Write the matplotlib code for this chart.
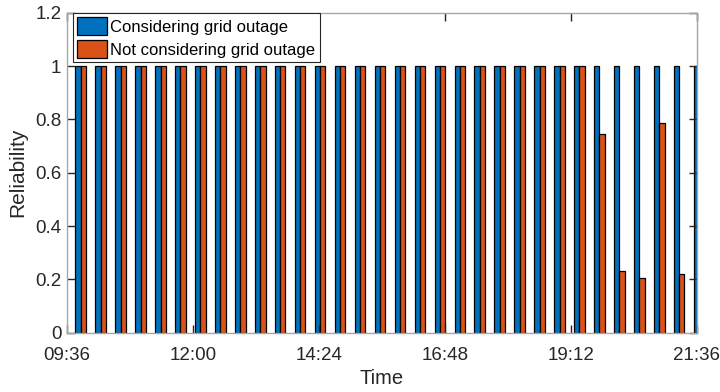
import matplotlib
matplotlib.use("Agg")
import matplotlib.pyplot as plt
import numpy as np

plt.rcParams['font.family'] = ['Liberation Sans', 'DejaVu Sans']

# Data
n_slots = 32
start_hour = 9.861          # first time slot (hours)
step_hour = 0.38            # slot spacing (hours)
considering = [1.0] * 32
not_considering = [1.0] * 26 + [0.745, 0.23, 0.205, 0.787, 0.22, 0.0]
tick_hours = [9.6, 12.0, 14.4, 16.8, 19.2, 21.6]
tick_labels = ['09:36', '12:00', '14:24', '16:48', '19:12', '21:36']
yticks = [0, 0.2, 0.4, 0.6, 0.8, 1.0, 1.2]
ytick_labels = ['0', '0.2', '0.4', '0.6', '0.8', '1', '1.2']

x = start_hour + step_hour * np.arange(n_slots)
w = 0.1

fig = plt.figure(figsize=(7.2, 3.92), dpi=100)
ax = fig.add_axes([67/720, 1-332.7/392, (697-67)/720, (332.7-12.7)/392])

ax.bar(x - w/2, considering, width=w, color='#0072BD', edgecolor='black',
       linewidth=0.9, label='Considering grid outage')
ax.bar(x + w/2, not_considering, width=w, color='#D95319', edgecolor='black',
       linewidth=0.9, label='Not considering grid outage')

ax.set_xlim(9.6, 21.6)
ax.set_ylim(0, 1.2)
ax.set_xticks(tick_hours)
ax.set_xticklabels(tick_labels)
ax.set_yticks(yticks)
ax.set_yticklabels(ytick_labels)

for s in ax.spines.values():
    s.set_color('#a6a6a6')
    s.set_linewidth(1.0)
ax.tick_params(direction='in', length=6, width=1.0, color='#262626',
               labelsize=13.5, labelcolor='#262626', top=True, right=True)
ax.tick_params(axis='x', pad=10)
ax.tick_params(axis='y', pad=4)

ax.set_xlabel('Time', fontsize=14.5, color='#262626', labelpad=4)
ax.set_ylabel('Reliability', fontsize=15, color='#262626', labelpad=6)

leg = ax.legend(loc='upper left', fontsize=12, frameon=True, fancybox=False,
                edgecolor='#262626', framealpha=1, borderpad=0.25,
                labelspacing=0.3, handlelength=1.8, handleheight=1.3,
                handletextpad=0.2, borderaxespad=0.0,
                bbox_to_anchor=(6/630, 1.0))
leg.get_frame().set_linewidth(0.8)

fig.savefig('out.png', dpi=100)
